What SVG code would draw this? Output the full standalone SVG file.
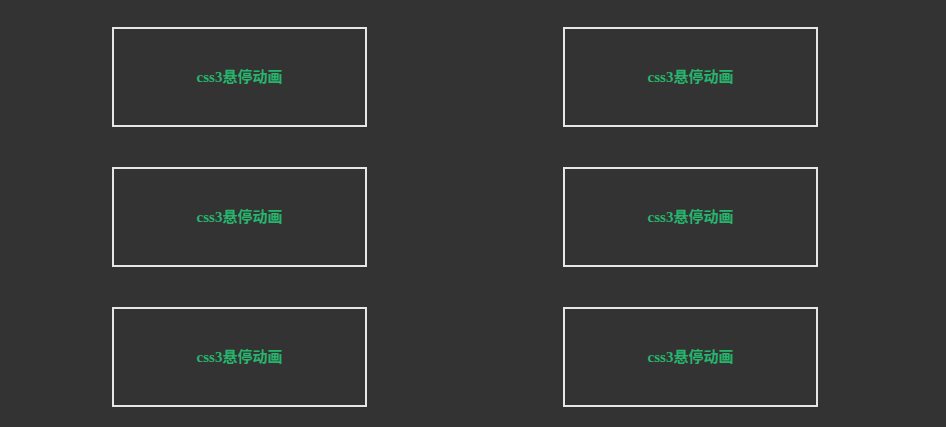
<svg xmlns="http://www.w3.org/2000/svg" width="946" height="427" viewBox="0 0 946 427">
<style>
.box{fill:none;stroke:#e6e6e6;stroke-width:2}
.lbl{font-family:"Liberation Serif","Noto Sans CJK SC",serif;font-weight:bold;font-size:15px;fill:#27b56e;text-anchor:middle}
</style>
<rect width="946" height="427" fill="#333333"/>
<g id="node1"><rect class="box" x="113" y="28" width="253" height="98"/><text class="lbl" x="239.5" y="82">css3悬停动画</text></g>
<g id="node2"><rect class="box" x="564" y="28" width="253" height="98"/><text class="lbl" x="690.5" y="82">css3悬停动画</text></g>
<g id="node3"><rect class="box" x="113" y="168" width="253" height="98"/><text class="lbl" x="239.5" y="222">css3悬停动画</text></g>
<g id="node4"><rect class="box" x="564" y="168" width="253" height="98"/><text class="lbl" x="690.5" y="222">css3悬停动画</text></g>
<g id="node5"><rect class="box" x="113" y="308" width="253" height="98"/><text class="lbl" x="239.5" y="362">css3悬停动画</text></g>
<g id="node6"><rect class="box" x="564" y="308" width="253" height="98"/><text class="lbl" x="690.5" y="362">css3悬停动画</text></g>
<g id="connectors"></g>
</svg>
